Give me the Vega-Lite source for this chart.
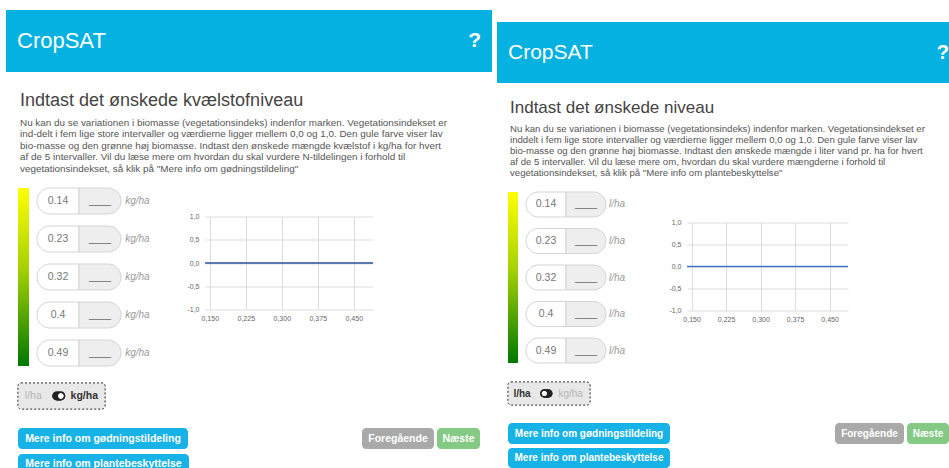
{
  "$schema": "https://vega.github.io/schema/vega-lite/v6.json",
  "background": "white",
  "padding": {"left": 6, "top": 10, "right": 0, "bottom": 0},
  "config": {"view": {"stroke": null}, "font": "Liberation Sans"},
  "spacing": 5,
  "hconcat": [
    {
      "spacing": 0,
      "vconcat": [
        {
          "width": 486, "height": 62,
          "data": {"values": [{"slot": "brand", "label": "CropSAT"}, {"slot": "help", "label": "?"}]},
          "layer": [
            {"mark": {"type": "rect", "color": "#05b1e1"}},
            {"transform": [{"filter": "datum.slot == 'brand'"}],
             "mark": {"type": "text", "align": "left", "fontSize": 22, "color": "white"},
             "encoding": {"x": {"field": "slot", "type": "nominal", "scale": {"type": "point", "domain": ["brand", "help"], "padding": 0.0237, "align": 0.5}, "axis": null}, "text": {"field": "label"}}},
            {"transform": [{"filter": "datum.slot == 'help'"}],
             "mark": {"type": "text", "align": "right", "fontSize": 21, "fontWeight": "bold", "color": "white"},
             "encoding": {"x": {"field": "slot", "type": "nominal"}, "text": {"field": "label"}}}
          ]
        },
        {
          "spacing": 10,
          "hconcat": [
            {"width": 1, "height": 1, "data": {"values": []}, "mark": "point", "encoding": {}},
            {
              "spacing": 0,
              "vconcat": [
                {"width": 1, "height": 18.6, "data": {"values": []}, "mark": "point", "encoding": {}},
                {
                  "width": 460, "height": 20,
                  "data": {"values": [{"heading": "Indtast det ønskede kvælstofniveau"}]},
                  "mark": {"type": "text", "align": "left", "dx": 2, "fontSize": 18, "color": "#444444"},
                  "encoding": {"x": {"datum": "start", "type": "nominal", "scale": {"type": "point", "domain": ["start"], "padding": 0, "align": 0}, "axis": null}, "text": {"field": "heading"}}
                },
                {"width": 1, "height": 5.65, "data": {"values": []}, "mark": "point", "encoding": {}},
                {
                  "width": 465, "height": 57.5,
                  "data": {"values": [
                    {"line": 1, "text": "Nu kan du se variationen i biomasse (vegetationsindeks) indenfor marken. Vegetationsindekset er"},
                    {"line": 2, "text": "ind-delt i fem lige store intervaller og værdierne ligger mellem 0,0 og 1,0. Den gule farve viser lav"},
                    {"line": 3, "text": "bio-masse og den grønne høj biomasse. Indtast den ønskede mængde kvælstof i kg/ha for hvert"},
                    {"line": 4, "text": "af de 5 intervaller. Vil du læse mere om hvordan du skal vurdere N-tildelingen i forhold til"},
                    {"line": 5, "text": "vegetationsindekset, så klik på \"Mere info om gødningstildeling\""}
                  ]},
                  "mark": {"type": "text", "align": "left", "dx": 2, "fontSize": 9.9, "color": "#555555"},
                  "encoding": {
                    "x": {"datum": "start", "type": "nominal", "scale": {"type": "point", "domain": ["start"], "padding": 0, "align": 0}, "axis": null},
                    "y": {"field": "line", "type": "ordinal", "scale": {"type": "band", "paddingInner": 0, "paddingOuter": 0}, "axis": null},
                    "text": {"field": "text"}
                  }
                },
                {"width": 1, "height": 11.75, "data": {"values": []}, "mark": "point", "encoding": {}},
                {
                  "spacing": 7,
                  "hconcat": [
                    {
                      "width": 11, "height": 178,
                      "data": {"values": [{"scale": "vegetationsindeks"}]},
                      "mark": {"type": "rect", "fill": {"gradient": "linear", "x1": 0, "y1": 0, "x2": 0, "y2": 1, "stops": [{"offset": 0, "color": "#ffff00"}, {"offset": 0.45, "color": "#a6d200"}, {"offset": 1, "color": "#007800"}]}}
                    },
                    {
                      "spacing": 23,
                      "hconcat": [
                        {
                          "width": 126, "height": 178,
                          "data": {"values": [
                            {"index": 0.14, "unit": "kg/ha"},
                            {"index": 0.23, "unit": "kg/ha"},
                            {"index": 0.32, "unit": "kg/ha"},
                            {"index": 0.4, "unit": "kg/ha"},
                            {"index": 0.49, "unit": "kg/ha"}
                          ]},
                          "encoding": {"y": {"field": "index", "type": "ordinal", "scale": {"paddingInner": 0.316, "paddingOuter": 0}, "axis": null}},
                          "layer": [
                            {"mark": {"type": "rect", "fill": "white", "stroke": "#d4d4d4", "cornerRadiusTopLeft": 13, "cornerRadiusBottomLeft": 13},
                             "encoding": {"x": {"datum": "value", "type": "nominal", "scale": {"type": "band", "domain": ["value", "entry", "unit"], "paddingInner": 0, "paddingOuter": 0}, "axis": null}}},
                            {"mark": {"type": "rect", "fill": "#eeeeee", "stroke": "#d4d4d4", "cornerRadiusTopRight": 13, "cornerRadiusBottomRight": 13},
                             "encoding": {"x": {"datum": "entry", "type": "nominal"}}},
                            {"mark": {"type": "text", "fontSize": 10.5, "color": "#777777"},
                             "encoding": {"x": {"datum": "value", "type": "nominal"}, "text": {"field": "index", "type": "nominal"}}},
                            {"mark": {"type": "text", "fontSize": 10, "color": "#666666"},
                             "encoding": {"x": {"datum": "entry", "type": "nominal"}, "text": {"value": "____"}}},
                            {"mark": {"type": "text", "align": "left", "fontSize": 10, "fontStyle": "italic", "color": "#9a9a9a"},
                             "encoding": {"x": {"datum": "unit", "type": "nominal", "bandPosition": 0.1}, "text": {"field": "unit"}}}
                          ]
                        },
                        {
                          "spacing": 23.5,
                          "vconcat": [
                            {"width": 1, "height": 1, "data": {"values": []}, "mark": "point", "encoding": {}},
                            {
                              "width": 168, "height": 93,
                              "data": {"values": [
                                {"index": 0.14, "amount": 0},
                                {"index": 0.23, "amount": 0},
                                {"index": 0.32, "amount": 0},
                                {"index": 0.4, "amount": 0},
                                {"index": 0.49, "amount": 0}
                              ]},
                              "mark": {"type": "line", "color": "#2a4f9a", "strokeWidth": 1.6},
                              "encoding": {
                                "x": {"field": "index", "type": "quantitative", "scale": {"domain": [0.14, 0.49], "nice": false, "zero": false},
                                      "axis": {"values": [0.15, 0.225, 0.3, 0.375, 0.45], "format": ".3f", "labelExpr": "replace(datum.label, '.', ',')", "title": null, "domain": false, "ticks": false, "grid": true, "gridColor": "#dddddd", "labelFontSize": 7, "labelColor": "#666666", "labelPadding": 5, "labelFlush": false, "labelOverlap": false}},
                                "y": {"field": "amount", "type": "quantitative", "scale": {"domain": [-1, 1], "nice": false},
                                      "axis": {"values": [-1, -0.5, 0, 0.5, 1], "format": ".1f", "labelExpr": "replace(replace(datum.label, '.', ','), '\u2212', '-')", "title": null, "domain": false, "ticks": false, "grid": true, "gridColor": "#dddddd", "labelFontSize": 7, "labelColor": "#666666", "labelPadding": 6, "labelFlush": false, "labelOverlap": false, "minExtent": 18, "maxExtent": 18}}
                              }
                            }
                          ]
                        }
                      ]
                    }
                  ]
                },
                {"width": 1, "height": 14.5, "data": {"values": []}, "mark": "point", "encoding": {}},
                {
                  "width": 87, "height": 26,
                  "data": {"values": [{"unit": "l/ha", "selected": false}, {"unit": "kg/ha", "selected": true}]},
                  "layer": [
                    {"mark": {"type": "rect", "fill": "#e8e8e8", "stroke": "#555555", "strokeDash": [2, 2], "cornerRadius": 3}},
                    {"transform": [{"filter": "datum.selected"}],
                     "mark": {"type": "text", "fontSize": 10.5, "fontWeight": "bold", "color": "#333333"},
                     "encoding": {"x": {"field": "unit", "type": "nominal", "scale": {"type": "point", "domain": ["l/ha", "switch", "kg/ha"], "padding": 0.706, "align": 0.425}, "axis": null}, "text": {"field": "unit"}}},
                    {"transform": [{"filter": "!datum.selected"}],
                     "mark": {"type": "text", "fontSize": 10.5, "color": "#b5b5b5"},
                     "encoding": {"x": {"field": "unit", "type": "nominal"}, "text": {"field": "unit"}}},
                    {"mark": {"type": "point", "shape": "M -0.35,-0.75 L 0.35,-0.75 A 0.75,0.75 0 0 1 0.35,0.75 L -0.35,0.75 A 0.75,0.75 0 0 1 -0.35,-0.75 Z", "size": 139, "filled": true, "color": "#222222", "opacity": 1},
                     "encoding": {"x": {"datum": "switch", "type": "nominal"}}},
                    {"mark": {"type": "point", "shape": "M 0.8,0 A 0.45,0.45 0 1 1 -0.1,0 A 0.45,0.45 0 1 1 0.8,0 Z", "size": 139, "filled": true, "color": "white", "opacity": 1},
                     "encoding": {"x": {"datum": "switch", "type": "nominal"}}}
                  ]
                },
                {"width": 1, "height": 18, "data": {"values": []}, "mark": "point", "encoding": {}},
                {
                  "spacing": 3,
                  "hconcat": [
                    {"width": 170, "height": 21, "data": {"values": [{"label": "Mere info om gødningstildeling"}]},
                     "layer": [{"mark": {"type": "rect", "color": "#17b3e6", "cornerRadius": 4}},
                               {"mark": {"type": "text", "color": "white", "fontWeight": "bold", "fontSize": 10.5}, "encoding": {"text": {"field": "label"}}}]},
                    {"width": 168, "height": 21, "data": {"values": []}, "mark": "point", "encoding": {}},
                    {"width": 72, "height": 21, "data": {"values": [{"label": "Foregående"}]},
                     "layer": [{"mark": {"type": "rect", "color": "#a9a9a9", "cornerRadius": 4}},
                               {"mark": {"type": "text", "color": "white", "fontWeight": "bold", "fontSize": 10.5}, "encoding": {"text": {"field": "label"}}}]},
                    {"width": 43, "height": 21, "data": {"values": [{"label": "Næste"}]},
                     "layer": [{"mark": {"type": "rect", "color": "#84c984", "cornerRadius": 4}},
                               {"mark": {"type": "text", "color": "white", "fontWeight": "bold", "fontSize": 10.5}, "encoding": {"text": {"field": "label"}}}]}
                  ]
                },
                {"width": 1, "height": 5, "data": {"values": []}, "mark": "point", "encoding": {}},
                {"width": 171, "height": 15, "data": {"values": [{"label": "Mere info om plantebeskyttelse"}]},
                 "layer": [{"mark": {"type": "rect", "color": "#17b3e6", "cornerRadiusTopLeft": 4, "cornerRadiusTopRight": 4}},
                           {"mark": {"type": "text", "color": "white", "fontWeight": "bold", "fontSize": 10.5, "dy": 2}, "encoding": {"text": {"field": "label"}}}]}
              ]
            }
          ]
        }
      ]
    },
    {
      "spacing": 0,
      "vconcat": [
        {"width": 1, "height": 12, "data": {"values": []}, "mark": "point", "encoding": {}},
        {
          "width": 452, "height": 61,
          "data": {"values": [{"slot": "brand", "label": "CropSAT"}, {"slot": "help", "label": "?"}]},
          "layer": [
            {"mark": {"type": "rect", "color": "#05b1e1"}},
            {"transform": [{"filter": "datum.slot == 'brand'"}],
             "mark": {"type": "text", "align": "left", "fontSize": 21, "color": "white"},
             "encoding": {"x": {"field": "slot", "type": "nominal", "scale": {"type": "point", "domain": ["brand", "help"], "padding": 0.0125, "align": 1}, "axis": null}, "text": {"field": "label"}}},
            {"transform": [{"filter": "datum.slot == 'help'"}],
             "mark": {"type": "text", "align": "right", "fontSize": 20, "fontWeight": "bold", "color": "white"},
             "encoding": {"x": {"field": "slot", "type": "nominal"}, "text": {"field": "label"}}}
          ]
        },
        {
          "spacing": 9,
          "hconcat": [
            {"width": 1, "height": 1, "data": {"values": []}, "mark": "point", "encoding": {}},
            {
              "spacing": 0,
              "vconcat": [
                {"width": 1, "height": 14.5, "data": {"values": []}, "mark": "point", "encoding": {}},
                {
                  "width": 430, "height": 19,
                  "data": {"values": [{"heading": "Indtast det ønskede niveau"}]},
                  "mark": {"type": "text", "align": "left", "dx": 2, "fontSize": 17, "color": "#444444"},
                  "encoding": {"x": {"datum": "start", "type": "nominal", "scale": {"type": "point", "domain": ["start"], "padding": 0, "align": 0}, "axis": null}, "text": {"field": "heading"}}
                },
                {"width": 1, "height": 6, "data": {"values": []}, "mark": "point", "encoding": {}},
                {
                  "width": 438, "height": 55,
                  "data": {"values": [
                    {"line": 1, "text": "Nu kan du se variationen i biomasse (vegetationsindeks) indenfor marken. Vegetationsindekset er"},
                    {"line": 2, "text": "inddelt i fem lige store intervaller og værdierne ligger mellem 0,0 og 1,0. Den gule farve viser lav"},
                    {"line": 3, "text": "bio-masse og den grønne høj biomasse. Indtast den ønskede mængde i liter vand pr. ha for hvert"},
                    {"line": 4, "text": "af de 5 intervaller. Vil du læse mere om, hvordan du skal vurdere mængderne i forhold til"},
                    {"line": 5, "text": "vegetationsindekset, så klik på \"Mere info om plantebeskyttelse\""}
                  ]},
                  "mark": {"type": "text", "align": "left", "dx": 2, "fontSize": 9.6, "color": "#555555"},
                  "encoding": {
                    "x": {"datum": "start", "type": "nominal", "scale": {"type": "point", "domain": ["start"], "padding": 0, "align": 0}, "axis": null},
                    "y": {"field": "line", "type": "ordinal", "scale": {"type": "band", "paddingInner": 0, "paddingOuter": 0}, "axis": null},
                    "text": {"field": "text"}
                  }
                },
                {"width": 1, "height": 12.5, "data": {"values": []}, "mark": "point", "encoding": {}},
                {
                  "spacing": 7,
                  "hconcat": [
                    {
                      "width": 10, "height": 171,
                      "data": {"values": [{"scale": "vegetationsindeks"}]},
                      "mark": {"type": "rect", "fill": {"gradient": "linear", "x1": 0, "y1": 0, "x2": 0, "y2": 1, "stops": [{"offset": 0, "color": "#ffff00"}, {"offset": 0.45, "color": "#a6d200"}, {"offset": 1, "color": "#007800"}]}}
                    },
                    {
                      "spacing": 22,
                      "hconcat": [
                        {
                          "width": 120, "height": 171,
                          "data": {"values": [
                            {"index": 0.14, "unit": "l/ha"},
                            {"index": 0.23, "unit": "l/ha"},
                            {"index": 0.32, "unit": "l/ha"},
                            {"index": 0.4, "unit": "l/ha"},
                            {"index": 0.49, "unit": "l/ha"}
                          ]},
                          "encoding": {"y": {"field": "index", "type": "ordinal", "scale": {"paddingInner": 0.316, "paddingOuter": 0}, "axis": null}},
                          "layer": [
                            {"mark": {"type": "rect", "fill": "white", "stroke": "#d4d4d4", "cornerRadiusTopLeft": 12.5, "cornerRadiusBottomLeft": 12.5},
                             "encoding": {"x": {"datum": "value", "type": "nominal", "scale": {"type": "band", "domain": ["value", "entry", "unit"], "paddingInner": 0, "paddingOuter": 0}, "axis": null}}},
                            {"mark": {"type": "rect", "fill": "#eeeeee", "stroke": "#d4d4d4", "cornerRadiusTopRight": 12.5, "cornerRadiusBottomRight": 12.5},
                             "encoding": {"x": {"datum": "entry", "type": "nominal"}}},
                            {"mark": {"type": "text", "fontSize": 10.5, "color": "#777777"},
                             "encoding": {"x": {"datum": "value", "type": "nominal"}, "text": {"field": "index", "type": "nominal"}}},
                            {"mark": {"type": "text", "fontSize": 10, "color": "#666666"},
                             "encoding": {"x": {"datum": "entry", "type": "nominal"}, "text": {"value": "____"}}},
                            {"mark": {"type": "text", "align": "left", "fontSize": 10, "fontStyle": "italic", "color": "#9a9a9a"},
                             "encoding": {"x": {"datum": "unit", "type": "nominal", "bandPosition": 0.075}, "text": {"field": "unit"}}}
                          ]
                        },
                        {
                          "spacing": 25.5,
                          "vconcat": [
                            {"width": 1, "height": 1, "data": {"values": []}, "mark": "point", "encoding": {}},
                            {
                              "width": 161, "height": 88,
                              "data": {"values": [
                                {"index": 0.14, "amount": 0},
                                {"index": 0.23, "amount": 0},
                                {"index": 0.32, "amount": 0},
                                {"index": 0.4, "amount": 0},
                                {"index": 0.49, "amount": 0}
                              ]},
                              "mark": {"type": "line", "color": "#4673c6", "strokeWidth": 1.4},
                              "encoding": {
                                "x": {"field": "index", "type": "quantitative", "scale": {"domain": [0.14, 0.49], "nice": false, "zero": false},
                                      "axis": {"values": [0.15, 0.225, 0.3, 0.375, 0.45], "format": ".3f", "labelExpr": "replace(datum.label, '.', ',')", "title": null, "domain": false, "ticks": false, "grid": true, "gridColor": "#dddddd", "labelFontSize": 7, "labelColor": "#666666", "labelPadding": 5, "labelFlush": false, "labelOverlap": false}},
                                "y": {"field": "amount", "type": "quantitative", "scale": {"domain": [-1, 1], "nice": false},
                                      "axis": {"values": [-1, -0.5, 0, 0.5, 1], "format": ".1f", "labelExpr": "replace(replace(datum.label, '.', ','), '\u2212', '-')", "title": null, "domain": false, "ticks": false, "grid": true, "gridColor": "#dddddd", "labelFontSize": 7, "labelColor": "#666666", "labelPadding": 6, "labelFlush": false, "labelOverlap": false, "minExtent": 18, "maxExtent": 18}}
                              }
                            }
                          ]
                        }
                      ]
                    }
                  ]
                },
                {"width": 1, "height": 17, "data": {"values": []}, "mark": "point", "encoding": {}},
                {
                  "width": 82, "height": 23,
                  "data": {"values": [{"unit": "l/ha", "selected": true}, {"unit": "kg/ha", "selected": false}]},
                  "layer": [
                    {"mark": {"type": "rect", "fill": "#e8e8e8", "stroke": "#555555", "strokeDash": [2, 2], "cornerRadius": 3}},
                    {"transform": [{"filter": "datum.selected"}],
                     "mark": {"type": "text", "fontSize": 10, "fontWeight": "bold", "color": "#333333"},
                     "encoding": {"x": {"field": "unit", "type": "nominal", "scale": {"type": "point", "domain": ["l/ha", "switch", "kg/ha"], "padding": 0.687, "align": 0.42}, "axis": null}, "text": {"field": "unit"}}},
                    {"transform": [{"filter": "!datum.selected"}],
                     "mark": {"type": "text", "fontSize": 10, "color": "#b5b5b5"},
                     "encoding": {"x": {"field": "unit", "type": "nominal"}, "text": {"field": "unit"}}},
                    {"mark": {"type": "point", "shape": "M -0.35,-0.75 L 0.35,-0.75 A 0.75,0.75 0 0 1 0.35,0.75 L -0.35,0.75 A 0.75,0.75 0 0 1 -0.35,-0.75 Z", "size": 125, "filled": true, "color": "#222222", "opacity": 1},
                     "encoding": {"x": {"datum": "switch", "type": "nominal"}}},
                    {"mark": {"type": "point", "shape": "M 0.1,0 A 0.45,0.45 0 1 1 -0.8,0 A 0.45,0.45 0 1 1 0.1,0 Z", "size": 125, "filled": true, "color": "white", "opacity": 1},
                     "encoding": {"x": {"datum": "switch", "type": "nominal"}}}
                  ]
                },
                {"width": 1, "height": 16.5, "data": {"values": []}, "mark": "point", "encoding": {}},
                {
                  "spacing": 3,
                  "hconcat": [
                    {"width": 162, "height": 21, "data": {"values": [{"label": "Mere info om gødningstildeling"}]},
                     "layer": [{"mark": {"type": "rect", "color": "#17b3e6", "cornerRadius": 4}},
                               {"mark": {"type": "text", "color": "white", "fontWeight": "bold", "fontSize": 10}, "encoding": {"text": {"field": "label"}}}]},
                    {"width": 159, "height": 21, "data": {"values": []}, "mark": "point", "encoding": {}},
                    {"width": 69, "height": 21, "data": {"values": [{"label": "Foregående"}]},
                     "layer": [{"mark": {"type": "rect", "color": "#a9a9a9", "cornerRadius": 4}},
                               {"mark": {"type": "text", "color": "white", "fontWeight": "bold", "fontSize": 10}, "encoding": {"text": {"field": "label"}}}]},
                    {"width": 42, "height": 21, "data": {"values": [{"label": "Næste"}]},
                     "layer": [{"mark": {"type": "rect", "color": "#84c984", "cornerRadius": 4}},
                               {"mark": {"type": "text", "color": "white", "fontWeight": "bold", "fontSize": 10}, "encoding": {"text": {"field": "label"}}}]}
                  ]
                },
                {"width": 1, "height": 4, "data": {"values": []}, "mark": "point", "encoding": {}},
                {"width": 162, "height": 20, "data": {"values": [{"label": "Mere info om plantebeskyttelse"}]},
                 "layer": [{"mark": {"type": "rect", "color": "#17b3e6", "cornerRadius": 4}},
                           {"mark": {"type": "text", "color": "white", "fontWeight": "bold", "fontSize": 10}, "encoding": {"text": {"field": "label"}}}]}
              ]
            }
          ]
        }
      ]
    }
  ]
}
